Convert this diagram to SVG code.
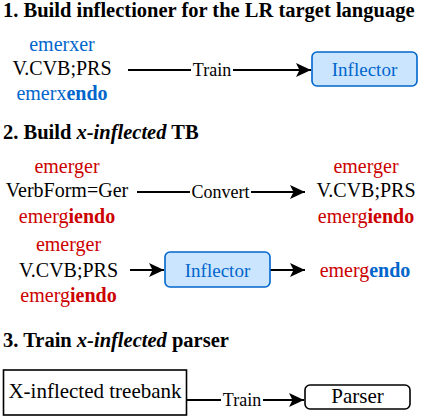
<svg xmlns="http://www.w3.org/2000/svg" width="422" height="416" viewBox="0 0 422 416" font-family="Liberation Serif, Times New Roman, serif">
<style>
text { font-family: "Liberation Serif", "Times New Roman", serif; }
.title { font-size: 20.5px; font-weight: bold; fill: #000; }
.w { font-size: 20px; text-anchor: middle; }
.blk { fill: #000; }
.blue { fill: #0066CC; }
.red { fill: #CC0000; }
.b { font-weight: bold; }
.lbl { font-size: 18px; text-anchor: middle; fill: #000; }
.conn { stroke: #000; stroke-width: 2; fill: none; }
.inf { fill: #cce5ff; stroke: #0066CC; stroke-width: 1.6; }
.box { fill: #fff; stroke: #000; stroke-width: 1.6; }
.inft { font-size: 19px; text-anchor: middle; fill: #0066CC; }
.t21 { font-size: 21px; text-anchor: middle; fill: #000; }
</style>
<defs>
<marker id="arr" markerUnits="userSpaceOnUse" markerWidth="16" markerHeight="16" viewBox="0 0 16 16" refX="15" refY="8" orient="auto">
<path d="M0,1 L15,8 L0,15 L3.5,8 Z" fill="#000"/>
</marker>
</defs>

<text class="title" x="3" y="17">1. Build inflectioner for the LR target language</text>
<text class="title" x="3" y="139">2. Build <tspan font-style="italic">x-inflected</tspan> TB</text>
<text class="title" x="3" y="347">3. Train <tspan font-style="italic">x-inflected</tspan> parser</text>

<g id="connectors">
<line class="conn" x1="128" y1="70" x2="311" y2="70" marker-end="url(#arr)"/>
<rect x="191" y="60" width="42" height="20" fill="#fff"/>
<text class="lbl" x="212" y="76">Train</text>

<line class="conn" x1="137" y1="192" x2="305" y2="192" marker-end="url(#arr)"/>
<rect x="190" y="182" width="61" height="20" fill="#fff"/>
<text class="lbl" x="220.5" y="198">Convert</text>

<line class="conn" x1="130" y1="270" x2="164" y2="270" marker-end="url(#arr)"/>
<line class="conn" x1="270" y1="270" x2="305" y2="270" marker-end="url(#arr)"/>

<line class="conn" x1="187" y1="400" x2="304" y2="400" marker-end="url(#arr)"/>
<rect x="221" y="391" width="42" height="20" fill="#fff"/>
<text class="lbl" x="242" y="406">Train</text>
</g>

<g id="src1">
<text class="w blue" x="62" y="51">emerxer</text>
<text class="w blk" x="62" y="75">V.CVB;PRS</text>
<text class="w blue" x="62" y="100">emerx<tspan class="b">endo</tspan></text>
</g>

<g id="inflector1">
<rect class="inf" x="312" y="52" width="105" height="34" rx="5"/>
<text class="inft" x="364.5" y="76">Inflector</text>
</g>

<g id="src2">
<text class="w red" x="67" y="173">emerger</text>
<text class="w blk" x="67" y="197">VerbForm=Ger</text>
<text class="w red" x="67" y="223">emerg<tspan class="b">iendo</tspan></text>
</g>

<g id="conv2">
<text class="w red" x="366" y="173">emerger</text>
<text class="w blk" x="366" y="197">V.CVB;PRS</text>
<text class="w red" x="366" y="223">emerg<tspan class="b">iendo</tspan></text>
</g>

<g id="src3">
<text class="w red" x="68.5" y="251">emerger</text>
<text class="w blk" x="68.5" y="277">V.CVB;PRS</text>
<text class="w red" x="68.5" y="302">emerg<tspan class="b">iendo</tspan></text>
</g>

<g id="inflector2">
<rect class="inf" x="165" y="252" width="105" height="35" rx="5"/>
<text class="inft" x="217.5" y="277">Inflector</text>
</g>

<g id="out3">
<text class="w red" x="365" y="277">emerg<tspan class="blue b">endo</tspan></text>
</g>

<g id="treebank">
<rect class="box" x="3.5" y="370" width="183" height="45"/>
<text class="t21" x="95" y="398">X-inflected treebank</text>
</g>

<g id="parser">
<rect class="box" x="305" y="385" width="105" height="24" rx="5"/>
<text class="t21" x="357.5" y="403">Parser</text>
</g>
</svg>
